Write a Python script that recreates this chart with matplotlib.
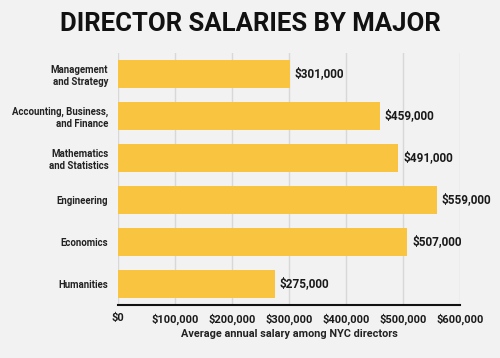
import numpy as np
import matplotlib.pyplot as plt

majors = ["Management\nand Strategy", "Accounting, Business,\nand Finance",
          "Mathematics\nand Statistics", "Engineering", "Economics", "Humanities"]
salaries = [301000, 459000, 491000, 559000, 507000, 275000]
xticks = [0, 100000, 200000, 300000, 400000, 500000, 600000]

bg = "#f2f2f2"
plt.rcParams["font.family"] = ["Roboto", "DejaVu Sans"]

fig = plt.figure(figsize=(5, 3.58), dpi=100, facecolor=bg)
ax = fig.add_axes([118 / 500, 1 - 305 / 358, 342 / 500, 252 / 358])
ax.set_facecolor(bg)

y = np.arange(len(majors))
ax.barh(y, salaries, height=0.67, color="#f9c440", zorder=2)
for yi, v in zip(y, salaries):
    ax.text(v + 9000, yi, f"${v:,}", va="center", ha="left",
            fontsize=8.5, fontweight="bold", color="#1a1a1a")

ax.set_ylim(len(majors) - 0.5, -0.5)
ax.set_xlim(0, 600000)
ax.set_yticks(y)
ax.set_yticklabels(majors, fontsize=6.9, fontweight="bold", color="#222222")
ax.set_xticks(xticks)
ax.set_xticklabels([f"${t:,}" for t in xticks], fontsize=8, fontweight="bold",
                   color="#1a1a1a")
ax.tick_params(axis="x", length=0, pad=6)
ax.tick_params(axis="y", length=0, pad=7)
ax.grid(axis="x", color="#d8d8d8", lw=1, zorder=0)
for s in ["top", "right", "left"]:
    ax.spines[s].set_visible(False)
ax.spines["bottom"].set_linewidth(1.5)
ax.spines["bottom"].set_color("#111111")
ax.set_xlabel("Average annual salary among NYC directors", fontsize=7.8,
              fontweight="bold", color="#222222", labelpad=3)

fig.text(0.5, 1 - 24 / 358, "DIRECTOR SALARIES BY MAJOR", ha="center", va="center",
         fontsize=18.5, fontweight="bold", color="#111111")

fig.savefig("out.png", dpi=100, facecolor=bg)
